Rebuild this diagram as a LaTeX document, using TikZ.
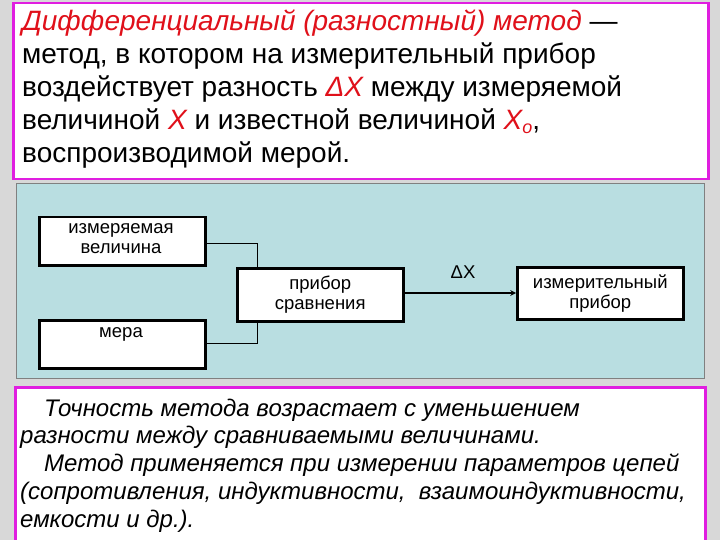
\documentclass[tikz,border=0pt]{standalone}
\usepackage{fontspec}
\setmainfont{Liberation Sans}
\definecolor{mag}{HTML}{E01EE0}
\definecolor{panel}{HTML}{B9DEE1}
\definecolor{marble}{HTML}{D8D8D8}
\definecolor{rd}{HTML}{E0101A}
\begin{document}
\begin{tikzpicture}[x=1pt,y=-1pt,
 blk/.style={draw,line width=2.5pt,fill=white,inner sep=0pt,align=center,font=\fontsize{18.5}{20}\selectfont},
 lbl/.style={anchor=base west,inner sep=0pt,font=\fontsize{28}{30}\selectfont},
 lbl2/.style={anchor=base west,inner sep=0pt,font=\fontsize{24}{26}\selectfont\itshape},
 con/.style={line width=1pt}]
\useasboundingbox (0,0) rectangle (720,540);
\fill[marble] (0,0) rectangle (720,540);
\node[draw=mag,line width=2.5pt,fill=white,minimum width=695pt,minimum height=176pt,anchor=north west] (top) at (12,2) {};
\node[draw=gray,line width=1pt,fill=panel,minimum width=688pt,minimum height=195pt,anchor=north west] (pan) at (16,183) {};
\node[draw=mag,line width=2.5pt,fill=white,minimum width=690pt,minimum height=160pt,anchor=north west] (bot) at (14,386) {};
\node[lbl] (t1) at (22,31) {\textcolor{rd}{\itshape Дифференциальный (разностный) метод} —};
\node[lbl] (t2) at (22,64) {метод, в котором на измерительный прибор};
\node[lbl] (t3) at (22,97) {воздействует разность \textcolor{rd}{\itshape ΔX} между измеряемой};
\node[lbl] (t4) at (22,130) {величиной \textcolor{rd}{\itshape X} и известной величиной \textcolor{rd}{\itshape X\raisebox{-4pt}{\fontsize{18}{18}\selectfont o}},};
\node[lbl] (t5) at (22,163) {воспроизводимой мерой.};
\node[blk,minimum width=166pt,minimum height=48pt,anchor=north west] (meas) at (38,216) {};
\node[font=\fontsize{18.5}{20}\selectfont,align=center] (measl) at (121,239) {измеряемая\\величина};
\node[blk,minimum width=166pt,minimum height=48pt,anchor=north west] (mera) at (38,319) {};
\node[font=\fontsize{18.5}{20}\selectfont] (meral) at (121,334) {мера};
\node[blk,minimum width=166pt,minimum height=53pt,anchor=north west] (cmp) at (236,267) {прибор\\сравнения};
\node[blk,minimum width=166pt,minimum height=52pt,anchor=north west] (ins) at (516,266) {измерительный\\прибор};
\node[font=\fontsize{18.5}{20}\selectfont] (dx) at (463,272) {ΔX};
\coordinate (c1) at (257,243);
\coordinate (c2) at (257,343);
\draw[con] (meas.east |- c1) -- (c1) -- (c1 |- cmp.north);
\draw[con] (mera.east |- c2) -- (c2) -- (c2 |- cmp.south);
\draw[line width=1.5pt,-stealth] (cmp.east |- 0,293) -- (ins.west |- 0,293);
\node[lbl2] (b1) at (20,416) {\quad Точность метода возрастает с уменьшением};
\node[lbl2] (b2) at (20,443) {разности между сравниваемыми величинами.};
\node[lbl2] (b3) at (20,471) {\quad Метод применяется при измерении параметров цепей};
\node[lbl2] (b4) at (20,499) {(сопротивления, индуктивности, \ взаимоиндуктивности,};
\node[lbl2] (b5) at (20,527) {емкости и др.).};
\end{tikzpicture}
\end{document}
